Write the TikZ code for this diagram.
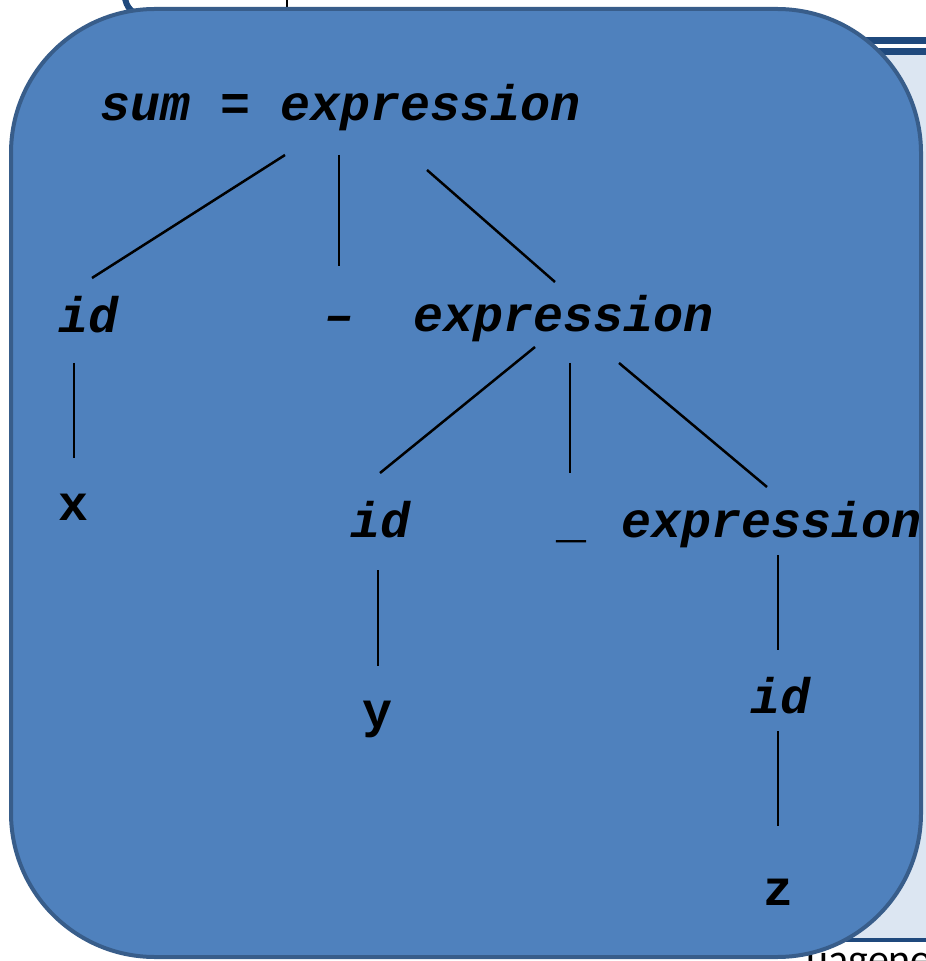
\documentclass[tikz,border=0pt]{standalone}
\usepackage{fontspec}
\setmonofont{Liberation Mono}
\setsansfont{Carlito}
\usetikzlibrary{positioning, calc}
\definecolor{ptBlue}{HTML}{4F81BD}
\definecolor{ptEdge}{HTML}{385D8A}
\definecolor{ptLight}{HTML}{DCE6F2}
\definecolor{ptNavy}{HTML}{1F497D}

\begin{document}
\begin{tikzpicture}[x=0.5pt, y=-0.5pt,
  lbl/.style={anchor=base, inner sep=0pt,
              font=\fontsize{25}{30}\selectfont\ttfamily\bfseries\itshape},
  leaf/.style={lbl, font=\fontsize{25}{30}\selectfont\ttfamily\bfseries},
  edge/.style={draw=black, line width=1.25pt}]
  \useasboundingbox (0,0) rectangle (925,961);
  % slides lying behind
  \draw[ptNavy, line width=3pt, rounded corners=10pt]
    (125,-50) -- (125,16) -- (500,16);
  \draw[line width=1.25pt] (287,-10) -- (287,20);
  \fill[ptLight] (600,54) rectangle (1000,938);
  \draw[ptNavy, line width=3.25pt] (600,40.5) -- (1000,40.5)
                                   (600,51.5) -- (1000,51.5);
  \draw[ptNavy, line width=2pt] (600,940) -- (1000,940);
  \node[anchor=base west, inner sep=0pt, font=\fontsize{21}{25}\selectfont\sffamily]
    (cap) at (806,973) {uagene};
  % the box with the tree
  \draw[ptEdge, line width=2pt, fill=ptBlue, rounded corners=72pt]
    (11,9) rectangle (921,957);

  \node[lbl] (root) at (341,121) {sum = expression};
  \node[lbl] (id1) at (89,333) {id};
  \node[lbl] (minus) at (339,332) {\textendash};
  \node[lbl] (expr1) at (564,332) {expression};
  \node[leaf] (x) at (74,520) {x};
  \node[lbl] (id2) at (380,537) {id};
  \node[leaf] (under) at (571,537) {\_};
  \node[lbl] (expr2) at (772,537) {expression};
  \node[leaf] (y) at (377,727) {y};
  \node[lbl] (id3) at (780,713) {id};
  \node[leaf] (z) at (778,905) {z};

  \draw[edge] ([shift={(-56,34)}]root.base) -- ([shift={(3,-55)}]id1.base);
  \draw[edge] ([shift={(-2,34)}]root.base) -- ([shift={(0,-66)}]minus.base);
  \draw[edge] ([shift={(86,49)}]root.base) -- ([shift={(-9,-50)}]expr1.base);
  \draw[edge] ([shift={(-15,30)}]id1.base) -- ([shift={(0,-62)}]x.base);
  \draw[edge] ([shift={(-29,15)}]expr1.base) -- ([shift={(0,-64)}]id2.base);
  \draw[edge] ([shift={(6,31)}]expr1.base) -- ([shift={(-1,-64)}]under.base);
  \draw[edge] ([shift={(55,31)}]expr1.base) -- ([shift={(-5,-50)}]expr2.base);
  \draw[edge] ([shift={(-2,33)}]id2.base) -- ([shift={(1,-61)}]y.base);
  \draw[edge] ([shift={(6,18)}]expr2.base) -- ([shift={(-2,-63)}]id3.base);
  \draw[edge] ([shift={(-2,18)}]id3.base) -- ([shift={(0,-79)}]z.base);
\end{tikzpicture}
\end{document}
